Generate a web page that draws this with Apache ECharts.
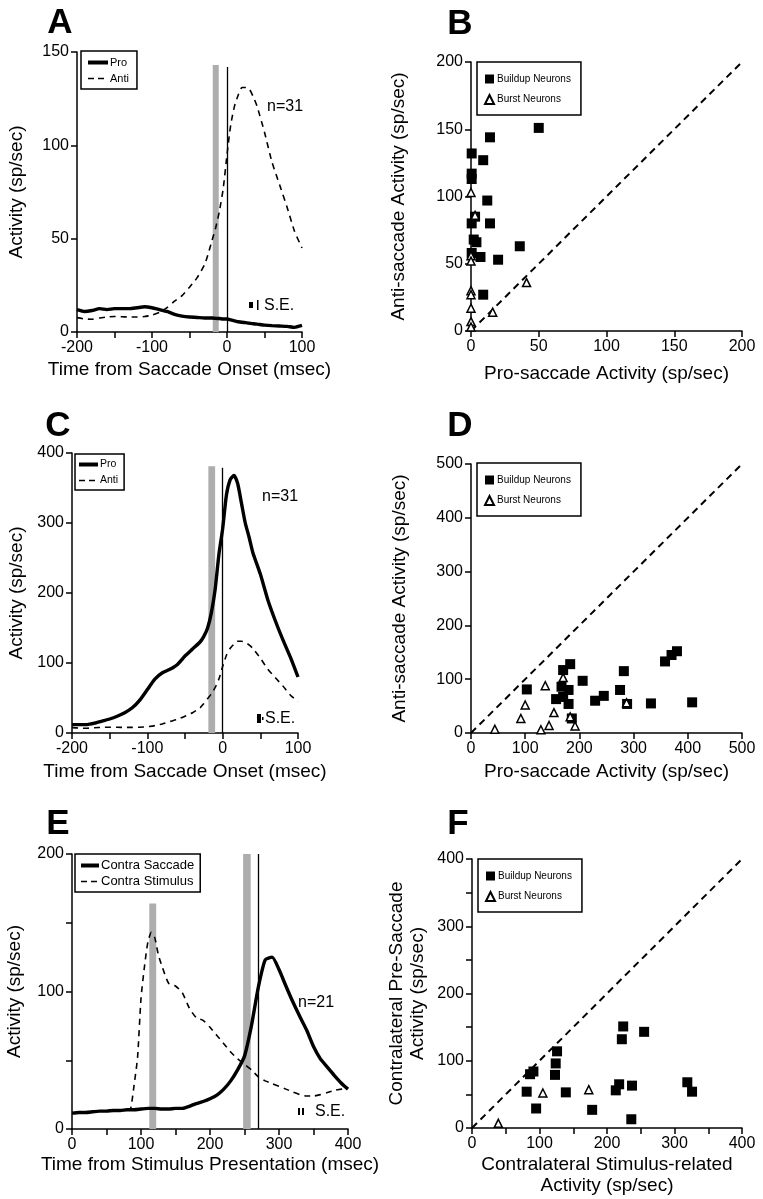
<!DOCTYPE html>
<html>
<head>
<meta charset="utf-8">
<script src="https://cdn.jsdelivr.net/npm/echarts@6/dist/echarts.min.js"></script>
<style>
  html, body { margin: 0; padding: 0; background: #fff; }
  #chart { width: 763px; height: 1199px; }
</style>
</head>
<body>
<div id="chart"></div>
<script>
// time bases (msec)
const tSac = [-200, -190, -180, -170, -160, -150, -140, -130, -120, -110, -100, -90, -80, -70, -60, -50, -40, -30,
  -25, -20, -15, -10, -5, 0, 5, 10, 15, 20, 25, 30, 35, 40, 50, 60, 70, 80, 90, 100]
const tStim = [0, 10, 20, 30, 40, 50, 60, 70, 80, 90, 100, 110, 120, 130, 140, 150, 160, 170, 180, 190, 200,
  210, 220, 230, 240, 250, 260, 270, 280, 290, 300, 310, 320, 330, 340, 350, 360, 370, 380, 390, 400]
const tStimDash = [0, 10, 20, 30, 40, 50, 60, 70, 80, 85, 90, 95, 100, 105, 110, 115, 120, 125, 130, 140, 150,
  160, 170, 180, 190, 200, 210, 220, 230, 240, 250, 260, 270, 280, 290, 300, 310, 320, 330, 340, 350, 360,
  370, 380, 390, 400]

// population activity (sp/sec)
const proA = [12, 11, 11.5, 12.5, 12, 12.5, 12.5, 12.5, 13, 13.5, 13, 12, 11, 9.5, 8.5, 8, 7.8, 7.5,
  7.5, 7.5, 7.3, 7.2, 7, 7, 6.5, 6, 5.5, 5.2, 5, 4.7, 4.4, 4.2, 3.7, 3.4, 3.2, 3, 2.5, 3.5]
const antiSac = [7.7, 7, 6.8, 7.5, 8, 8.3, 8.2, 8, 8, 8.3, 9, 10.5, 13, 16.5, 19.5, 24, 29, 36,
  42, 49, 56, 65, 77, 95, 111, 121, 127, 131, 131, 130, 126, 121, 107, 91, 79, 67, 54, 45]
const proC = [12, 12, 12, 14, 17, 20, 24, 29, 36, 47, 62, 77, 86, 91, 98, 110, 120, 130,
  138, 150, 172, 205, 255, 292, 340, 362, 368, 356, 328, 300, 280, 258, 227, 190, 160, 133, 108, 80]
const contraSac = [11.5, 12, 12, 12.5, 13, 13, 13.5, 13.5, 14, 14, 14.5, 15, 15, 14.5, 14.5, 15, 15, 16.5,
  18.5, 20, 22, 24.7, 29, 35, 43, 53, 75, 103, 123, 125, 116, 104, 92.5, 82, 72, 60, 51, 45, 39, 33.5, 29]
const contraStim = [11.5, 12, 12, 12.5, 13, 13, 13.5, 13.5, 14, 15, 32, 52, 95, 118, 136, 143, 139, 127, 119,
  106, 104, 99, 88, 81, 79, 74, 68, 62, 56, 51, 47, 43, 38, 35, 33, 31, 29, 27, 25, 24, 24, 25, 26.5, 28, 29, 30]

// shaded bands [from, to, top] and saccade markers [x, top]
const bandA = [-19, -11, 143]
const lineA = [0, 142]
const bandC = [-19, -10, 381]
const lineC = [0, 379]
const bandE1 = [112, 122, 164]
const bandE2 = [248, 259, 200]
const lineE = [270, 200]

// single neurons [x, y]
const buildupB = [[50, 151], [14, 144], [0.5, 132], [9, 127], [0.5, 117], [0.5, 113], [12, 97], [3, 85],
  [0.5, 80], [14, 80], [2, 68], [4, 66], [36, 63], [0.5, 58], [7, 55], [20, 53], [9, 27]]
const burstB = [[0, 103], [3, 86], [0, 56], [0, 52], [0, 30], [0, 27], [0, 17], [0, 7], [0, 3], [16, 14], [41, 36]]
const buildupD = [[380, 152], [370, 145], [358, 133], [183, 128], [170, 117], [282, 115], [206, 97], [103, 81],
  [167, 86], [180, 80], [275, 80], [157, 63], [170, 67], [245, 69], [229, 60], [180, 54], [288, 54], [332, 55],
  [408, 57], [186, 27]]
const burstD = [[137, 88], [170, 103], [100, 52], [92, 27], [153, 38], [183, 30], [144, 14], [192, 13], [129, 6],
  [44, 7], [287, 56]]
const buildupF = [[224, 151], [255, 143], [222, 132], [126, 114], [124, 96], [91, 84], [86, 80], [123, 79],
  [81, 54], [139, 53], [218, 65], [213, 56], [237, 63], [319, 68], [326, 54], [95, 29], [178, 27], [236, 13]]
const burstF = [[105, 52], [173, 57], [39, 7]]

const FONT = 'Liberation Sans, Arial, Helvetica, sans-serif'
const zip = (xs, ys) => xs.map((x, i) => [x, ys[i]])
const every100 = v => (v % 100 === 0 ? String(v) : '')

function axis(gridIndex, min, max, interval, name, nameGap, labelFmt) {
  return {
    type: 'value',
    gridIndex: gridIndex,
    min: min,
    max: max,
    interval: interval,
    name: name,
    nameLocation: 'middle',
    nameGap: nameGap,
    nameTextStyle: { color: '#000', fontSize: 19, fontFamily: FONT, lineHeight: 21 },
    axisLine: { show: true, onZero: false, lineStyle: { color: '#000', width: 1.5 } },
    axisTick: { show: true, inside: false, length: 6, lineStyle: { color: '#000', width: 1.5 } },
    axisLabel: { color: '#000', fontSize: 16, fontFamily: FONT, margin: 8, formatter: labelFmt },
    splitLine: { show: false }
  }
}

function band(b) {
  return [{ coord: [b[0], 0] }, { coord: [b[1], b[2]] }]
}

function marker(m) {
  return [{ coord: [m[0], 0] }, { coord: [m[0], m[1]] }]
}

const gray = { color: '#adadad' }
const markerStyle = { color: '#000', width: 1.3, type: 'solid' }

function traceSeries(name, idx, data, dashed, extra) {
  return Object.assign({
    name: name,
    type: 'line',
    xAxisIndex: idx,
    yAxisIndex: idx,
    data: data,
    symbol: 'none',
    showSymbol: false,
    smooth: 0.2,
    lineStyle: dashed ? { color: '#000', width: 1.6, type: [6, 5] } : { color: '#000', width: 3.4 },
    itemStyle: { color: '#000' },
    z: dashed ? 4 : 3
  }, extra || {})
}

function scatterSeries(idx, buildup, burst, max) {
  return [
    {
      type: 'line', xAxisIndex: idx, yAxisIndex: idx, data: [[0, 0], [max, max]], symbol: 'none',
      lineStyle: { color: '#000', width: 2, type: [7, 5] }, silent: true, z: 1
    },
    {
      name: 'Buildup Neurons', type: 'scatter', xAxisIndex: idx, yAxisIndex: idx, data: buildup,
      symbol: 'rect', symbolSize: 10, itemStyle: { color: '#000', opacity: 1 }, z: 3
    },
    {
      name: 'Burst Neurons', type: 'scatter', xAxisIndex: idx, yAxisIndex: idx, data: burst,
      symbol: 'triangle', symbolSize: 8,
      itemStyle: { color: '#fff', borderColor: '#000', borderWidth: 1.5, opacity: 1 }, z: 4
    }
  ]
}

function lineLegend(names, left, top, fontSize, iconW, gap, padding) {
  return {
    data: [
      { name: names[0], lineStyle: { width: 4, type: 'solid', color: '#000' } },
      { name: names[1], lineStyle: { width: 1.6, type: [6, 4], color: '#000' } }
    ],
    left: left, top: top, orient: 'vertical', selectedMode: false,
    borderColor: '#000', borderWidth: 1.5, padding: padding, itemGap: gap,
    itemWidth: iconW, itemHeight: 8, borderRadius: 0,
    itemStyle: { opacity: 0, borderWidth: 0 },
    textStyle: { color: '#000', fontSize: fontSize, fontFamily: FONT, padding: [0, 0, 0, -3] }
  }
}

function neuronLegend(left, top) {
  return {
    data: ['Buildup Neurons', 'Burst Neurons'], left: left, top: top, orient: 'vertical', selectedMode: false,
    borderColor: '#000', borderWidth: 1.5, padding: [12, 10, 10, 7], itemGap: 10,
    itemWidth: 9, itemHeight: 9, borderRadius: 0,
    textStyle: { color: '#000', fontSize: 10, fontFamily: FONT, padding: [0, 0, 0, -2] }
  }
}

function letter(ch, x, y) {
  return {
    type: 'text', x: x, y: y,
    style: { text: ch, fill: '#000', font: 'bold 35px ' + FONT, align: 'center', verticalAlign: 'middle' }
  }
}

function note(txt, x, y) {
  return {
    type: 'text', x: x, y: y,
    style: { text: txt, fill: '#000', font: '16px ' + FONT, align: 'left', verticalAlign: 'middle' }
  }
}

const chart = echarts.init(document.getElementById('chart'), null, { renderer: 'canvas' })

chart.setOption({
  animation: false,
  backgroundColor: '#fff',
  grid: [
    { left: 77, top: 52, width: 225, height: 280, outerBoundsMode: 'none' },
    { left: 471, top: 62, width: 271, height: 269, outerBoundsMode: 'none' },
    { left: 72, top: 453, width: 226, height: 280, outerBoundsMode: 'none' },
    { left: 471, top: 464, width: 271, height: 269, outerBoundsMode: 'none' },
    { left: 72, top: 854, width: 276, height: 275, outerBoundsMode: 'none' },
    { left: 472, top: 859, width: 270, height: 269, outerBoundsMode: 'none' }
  ],
  xAxis: [
    axis(0, -200, 100, 50, 'Time from Saccade Onset (msec)', 27, every100),
    axis(1, 0, 200, 50, 'Pro-saccade Activity (sp/sec)', 32),
    axis(2, -200, 100, 50, 'Time from Saccade Onset (msec)', 28, every100),
    axis(3, 0, 500, 100, 'Pro-saccade Activity (sp/sec)', 28),
    axis(4, 0, 400, 50, 'Time from Stimulus Presentation (msec)', 24, every100),
    axis(5, 0, 400, 50, 'Contralateral Stimulus-related\nActivity (sp/sec)', 26, every100)
  ],
  yAxis: [
    axis(0, 0, 150, 50, 'Activity (sp/sec)', 50),
    axis(1, 0, 200, 50, 'Anti-saccade Activity (sp/sec)', 62),
    axis(2, 0, 400, 100, 'Activity (sp/sec)', 45),
    axis(3, 0, 500, 100, 'Anti-saccade Activity (sp/sec)', 61),
    axis(4, 0, 200, 50, 'Activity (sp/sec)', 47, every100),
    axis(5, 0, 400, 50, 'Contralateral Pre-Saccade\nActivity (sp/sec)', 44, every100)
  ],
  legend: [
    lineLegend(['Pro', 'Anti'], 81, 51, 11, 20, 5, [6, 8, 5, 5]),
    neuronLegend(477, 62),
    lineLegend(['Pro', 'Anti'], 75, 454, 10.5, 19, 5, [5, 6, 4, 2]),
    neuronLegend(477, 463),
    lineLegend(['Contra Saccade', 'Contra Stimulus'], 75, 854, 13, 18, 3, [5, 6, 4, 4]),
    neuronLegend(478, 859)
  ],
  graphic: [
    letter('A', 60, 23), letter('B', 460, 24),
    letter('C', 58, 426), letter('D', 460, 426),
    letter('E', 58, 824), letter('F', 458, 824),
    note('n=31', 267, 107), note('n=31', 262, 497), note('n=21', 298, 1003),
    { type: 'rect', shape: { x: 249, y: 302, width: 4, height: 6 }, style: { fill: '#000' } },
    { type: 'rect', shape: { x: 257, y: 300, width: 1.5, height: 10 }, style: { fill: '#000' } },
    note('S.E.', 264, 306),
    { type: 'rect', shape: { x: 257, y: 714, width: 4, height: 9 }, style: { fill: '#000' } },
    { type: 'rect', shape: { x: 262, y: 717, width: 1.5, height: 3 }, style: { fill: '#000' } },
    note('S.E.', 265, 719),
    { type: 'rect', shape: { x: 298, y: 1108, width: 2, height: 7 }, style: { fill: '#000' } },
    { type: 'rect', shape: { x: 302, y: 1108, width: 2, height: 7 }, style: { fill: '#000' } },
    note('S.E.', 315, 1112)
  ],
  series: [
    traceSeries('Pro', 0, zip(tSac, proA), false, {
      markArea: { silent: true, itemStyle: gray, data: [band(bandA)] },
      markLine: { silent: true, symbol: 'none', label: { show: false }, lineStyle: markerStyle, data: [marker(lineA)] }
    }),
    traceSeries('Anti', 0, zip(tSac, antiSac), true),
    ...scatterSeries(1, buildupB, burstB, 200),
    traceSeries('Pro', 2, zip(tSac, proC), false, {
      markArea: { silent: true, itemStyle: gray, data: [band(bandC)] },
      markLine: { silent: true, symbol: 'none', label: { show: false }, lineStyle: markerStyle, data: [marker(lineC)] }
    }),
    traceSeries('Anti', 2, zip(tSac, antiSac), true),
    ...scatterSeries(3, buildupD, burstD, 500),
    traceSeries('Contra Saccade', 4, zip(tStim, contraSac), false, {
      markArea: { silent: true, itemStyle: gray, data: [band(bandE1), band(bandE2)] },
      markLine: { silent: true, symbol: 'none', label: { show: false }, lineStyle: markerStyle, data: [marker(lineE)] }
    }),
    traceSeries('Contra Stimulus', 4, zip(tStimDash, contraStim), true),
    ...scatterSeries(5, buildupF, burstF, 400)
  ]
})
</script>
</body>
</html>
